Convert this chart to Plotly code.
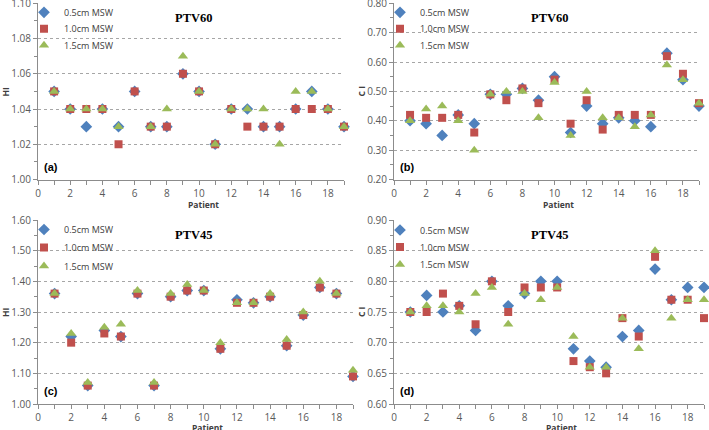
import plotly.graph_objects as go

patients = list(range(1, 20))
series_names = ["0.5cm MSW", "1.0cm MSW", "1.5cm MSW"]

# (a) HI, PTV60
hi60_05 = [1.05, 1.04, 1.03, 1.04, 1.03, 1.05, 1.03, 1.03, 1.06, 1.05, 1.02, 1.04, 1.04, 1.03, 1.03, 1.04, 1.05, 1.04, 1.03]
hi60_10 = [1.05, 1.04, 1.04, 1.04, 1.02, 1.05, 1.03, 1.03, 1.06, 1.05, 1.02, 1.04, 1.03, 1.03, 1.03, 1.04, 1.04, 1.04, 1.03]
hi60_15 = [1.05, 1.04, 1.04, 1.04, 1.03, None, 1.03, 1.04, 1.07, 1.05, 1.02, 1.04, 1.04, 1.04, 1.02, 1.05, 1.05, 1.04, 1.03]

# (b) CI, PTV60
ci60_05 = [0.40, 0.39, 0.35, 0.42, 0.39, 0.49, 0.49, 0.51, 0.47, 0.55, 0.36, 0.45, 0.39, 0.41, 0.40, 0.38, 0.63, 0.54, 0.45]
ci60_10 = [0.42, 0.41, 0.41, 0.42, 0.36, 0.49, 0.47, 0.51, 0.46, 0.54, 0.39, 0.47, 0.37, 0.42, 0.42, 0.42, 0.62, 0.56, 0.46]
ci60_15 = [0.40, 0.44, 0.45, 0.40, 0.30, 0.49, 0.50, 0.50, 0.41, 0.53, 0.35, 0.50, 0.41, 0.41, 0.38, 0.42, 0.59, 0.54, 0.46]

# (c) HI, PTV45
hi45_05 = [1.36, 1.22, 1.06, 1.24, 1.22, 1.36, 1.06, 1.35, 1.37, 1.37, 1.18, 1.34, 1.33, 1.35, 1.19, 1.29, 1.38, 1.36, 1.09]
hi45_10 = [1.36, 1.20, 1.06, 1.23, 1.22, 1.36, 1.06, 1.35, 1.37, 1.37, 1.18, 1.33, 1.33, 1.35, 1.19, 1.29, 1.38, 1.36, 1.09]
hi45_15 = [1.36, 1.23, 1.07, 1.25, 1.26, 1.37, 1.07, 1.36, 1.39, 1.37, 1.20, 1.33, 1.33, 1.36, 1.21, 1.30, 1.40, 1.36, 1.11]

# (d) CI, PTV45
ci45_05 = [0.75, 0.777, 0.75, 0.76, 0.72, 0.80, 0.76, 0.78, 0.80, 0.80, 0.69, 0.67, 0.66, 0.71, 0.72, 0.82, 0.77, 0.79, 0.79]
ci45_10 = [0.75, 0.75, 0.78, 0.76, 0.73, 0.80, 0.75, 0.79, 0.79, 0.79, 0.67, 0.66, 0.65, 0.74, 0.71, 0.84, 0.77, 0.77, 0.74]
ci45_15 = [0.75, 0.76, 0.76, 0.75, 0.78, 0.79, 0.73, 0.78, 0.77, 0.79, 0.71, 0.66, 0.66, 0.74, 0.69, 0.85, 0.74, 0.77, 0.77]

W, H = 709, 430
COLORS = ["#4F81BD", "#C0504D", "#9BBB59"]
SYMBOLS = ["diamond", "square", "triangle-up"]
SIZES = [9, 8, 9]
FONT = "Open Sans"

panels = [
    dict(data=[hi60_05, hi60_10, hi60_15], ax="", xpx=(38, 344), ypx=(3.3, 179.5),
         yr=(1.00, 1.10), dt=0.02, title="PTV60", label="(a)", ytitle="HI", legdy=(9, 25.5, 42), xt=205),
    dict(data=[ci60_05, ci60_10, ci60_15], ax="2", xpx=(394, 699), ypx=(3.3, 179.5),
         yr=(0.20, 0.80), dt=0.10, title="PTV60", label="(b)", ytitle="C I", legdy=(9, 25.5, 42), xt=205),
    dict(data=[hi45_05, hi45_10, hi45_15], ax="3", xpx=(38, 353), ypx=(220, 404),
         yr=(1.00, 1.60), dt=0.10, title="PTV45", label="(c)", ytitle="HI", legdy=(9.5, 27.5, 46), xt=427.5),
    dict(data=[ci45_05, ci45_10, ci45_15], ax="4", xpx=(394, 704), ypx=(220, 404),
         yr=(0.60, 0.90), dt=0.05, title="PTV45", label="(d)", ytitle="C I", legdy=(10, 27, 44.5), xt=427.5),
]

fig = go.Figure()
layout = dict(
    width=W, height=H, margin=dict(l=0, r=0, t=0, b=0, autoexpand=False),
    paper_bgcolor="white", plot_bgcolor="white",
    font=dict(family=FONT, size=10, color="#404040"),
    annotations=[],
)

leg_idx = 0
for p in panels:
    ax = p["ax"]
    x0, x1 = p["xpx"]
    yt, yb = p["ypx"]
    for i in range(3):
        leg_idx += 1
        leg = "legend" if leg_idx == 1 else "legend%d" % leg_idx
        fig.add_trace(go.Scatter(
            x=patients, y=p["data"][i], mode="markers", name=series_names[i],
            marker=dict(symbol=SYMBOLS[i], size=SIZES[i], color=COLORS[i], line=dict(width=0)),
            xaxis="x" + ax, yaxis="y" + ax, legend=leg, showlegend=True, cliponaxis=False,
        ))
        layout[leg] = dict(
            x=(x0 - 14) / W, y=1 - (yt + p["legdy"][i]) / H, xanchor="left", yanchor="middle",
            bgcolor="rgba(0,0,0,0)", font=dict(family=FONT, size=9, color="#404040"),
            itemwidth=30, itemsizing="trace", borderwidth=0,
        )
    xdom = [x0 / W, x1 / W]
    ydom = [1 - yb / H, 1 - yt / H]
    layout["xaxis" + ax] = dict(
        domain=xdom, range=[0, 19], dtick=2, tick0=0, anchor="y" + ax, automargin=False,
        showgrid=False, zeroline=False, showline=True, linecolor="#8c8c8c", linewidth=1,
        ticks="outside", ticklen=4, tickcolor="#8c8c8c", ticklabeloverflow="allow",
        minor=dict(dtick=1, ticks="outside", ticklen=4, tickcolor="#8c8c8c"),
        tickfont=dict(family=FONT, size=10, color="#595959"),
    )
    layout["yaxis" + ax] = dict(
        domain=ydom, range=[p["yr"][0], p["yr"][1] + 1e-7], dtick=p["dt"], tick0=p["yr"][0], anchor="x" + ax,
        automargin=False, tickformat=".2f", ticklabeloverflow="allow",
        showgrid=True, gridcolor="#a6a6a6", griddash="dot", gridwidth=1,
        zeroline=False, showline=True, linecolor="#8c8c8c", linewidth=1,
        ticks="outside", ticklen=4, tickcolor="#8c8c8c",
        minor=dict(dtick=p["dt"] / 2, ticks="outside", ticklen=3, tickcolor="#8c8c8c", showgrid=False),
        tickfont=dict(family=FONT, size=10, color="#595959"),
    )
    # title
    layout["annotations"].append(dict(
        text="<b>" + p["title"] + "</b>", x=(x0 + 156) / W, y=1 - (yt + 15) / H,
        xref="paper", yref="paper", showarrow=False, xanchor="center", yanchor="middle",
        font=dict(family="Liberation Serif", size=12.5, color="#000000"),
    ))
    # panel label
    layout["annotations"].append(dict(
        text="<b>" + p["label"] + "</b>", x=(x0 + 13) / W, y=1 - (yb - 13) / H,
        xref="paper", yref="paper", showarrow=False, xanchor="center", yanchor="middle",
        font=dict(family="Liberation Sans", size=11, color="#000000"),
    ))
    # x title
    layout["annotations"].append(dict(
        text="<b>Patient</b>", x=(x0 + (x1 - x0) * 0.5 + 12) / W, y=1 - p["xt"] / H,
        xref="paper", yref="paper", showarrow=False, xanchor="center", yanchor="middle",
        font=dict(family=FONT, size=8.5, color="#404040"),
    ))
    # y title
    layout["annotations"].append(dict(
        text="<b>" + p["ytitle"] + "</b>", x=(x0 - 33) / W, y=1 - ((yt + yb) / 2) / H,
        xref="paper", yref="paper", showarrow=False, xanchor="center", yanchor="middle",
        textangle=-90, font=dict(family=FONT, size=8.5, color="#404040"),
    ))

fig.update_layout(**layout)
fig.write_html(
    "out.html",
    config={"displayModeBar": False},
    post_script="document.body.style.margin='0';document.body.style.padding='0';document.body.style.overflow='hidden';",
)
